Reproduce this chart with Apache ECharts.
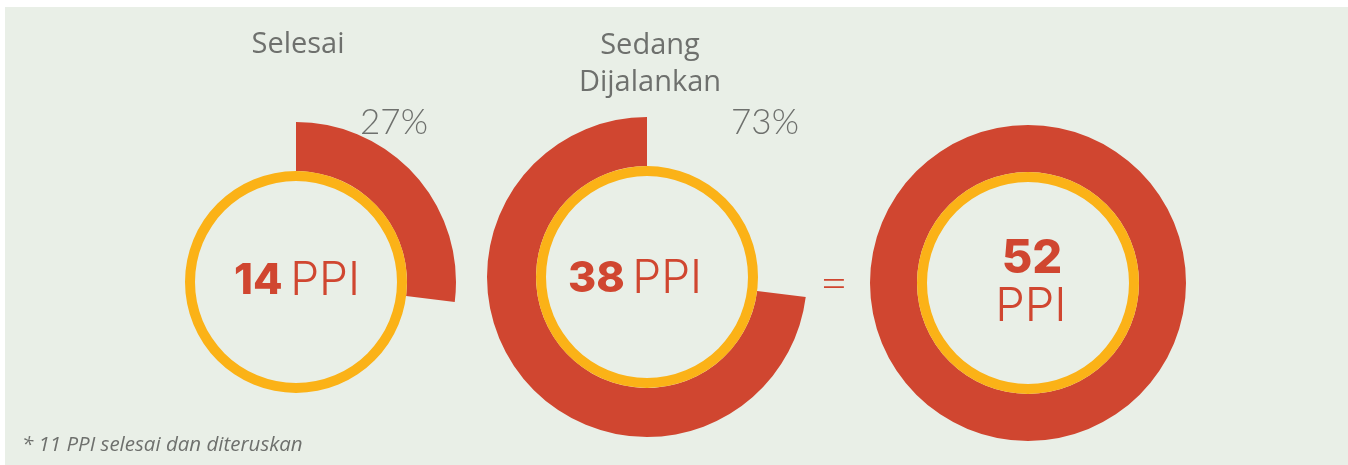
<!DOCTYPE html>
<html>
<head>
<meta charset="utf-8">
<script src="https://cdn.jsdelivr.net/npm/echarts@6/dist/echarts.min.js"></script>
<style>
  html, body { margin: 0; padding: 0; background: #fff; }
  #chart { width: 1348px; height: 465px; }
</style>
</head>
<body>
<div id="chart"></div>
<script>
// data
const categories = ['Selesai', 'Sedang\nDijalankan']
const counts = [14, 38]
const percents = [27, 73]
const totalCount = 52
const footnote = '* 11 PPI selesai dan diteruskan'

const RED = '#D04630'
const YELLOW = '#FBB217'
const BG = '#E9EFE7'
const GREY = '#6E706D'

const chart = echarts.init(document.getElementById('chart'))

// posisi donat
const centers = [[296, 282], [647, 277], [1028, 283]]
const outerR = [160, 160, 158]
const ringIn = 101, ringOut = 111

// cincin kuning di tengah
const ring = (c) => ({
  type: 'pie', center: c, radius: [ringIn, ringOut], silent: true,
  label: { show: false }, labelLine: { show: false },
  itemStyle: { color: YELLOW }, data: [1]
})

const series = [
  {
    type: 'pie', center: centers[0], radius: [ringOut, outerR[0]],
    startAngle: 90, clockwise: true, silent: true,
    label: { show: false },
    data: [
      { value: percents[0], itemStyle: { color: RED } },
      { value: 100 - percents[0], itemStyle: { color: 'transparent' } }
    ]
  },
  {
    type: 'pie', center: centers[1], radius: [ringOut, outerR[1]],
    startAngle: 90, clockwise: false, silent: true,
    label: { show: false },
    data: [
      { value: percents[1], itemStyle: { color: RED } },
      { value: 100 - percents[1], itemStyle: { color: 'transparent' } }
    ]
  },
  {
    type: 'pie', center: centers[2], radius: [ringOut, outerR[2]],
    silent: true, label: { show: false },
    data: [{ value: totalCount, itemStyle: { color: RED } }]
  },
  ring(centers[0]), ring(centers[1]), ring(centers[2])
]

const rich = {
  b: { fontFamily: 'Inter', fontWeight: 800, fontSize: 43, fill: RED },
  l: { fontFamily: 'Inter', fontWeight: 300, fontSize: 46, fill: RED }
}

const txt = (x, y, text, style) => ({
  type: 'text', x, y, silent: true,
  style: Object.assign({ text, align: 'center', verticalAlign: 'middle', fill: GREY,
    fontFamily: 'Open Sans', fontSize: 29 }, style)
})

chart.setOption({
  backgroundColor: '#fff',
  animation: false,
  graphic: [
    { type: 'rect', z: -10, shape: { x: 5, y: 7, width: 1343, height: 458 }, style: { fill: BG } },
    txt(298, 45, categories[0], {}),
    txt(650, 64, categories[1], { lineHeight: 37 }),
    txt(394, 123, percents[0] + '%', { fontFamily: 'Lato', fontWeight: 300, fontSize: 35 }),
    txt(765, 123, percents[1] + '%', { fontFamily: 'Lato', fontWeight: 300, fontSize: 35 }),
    txt(297, 281, '{b|' + counts[0] + '} {l|PPI}', { rich }),
    txt(635, 279, '{b|' + counts[1] + '} {l|PPI}', { rich }),
    txt(834, 284, '=', { fontFamily: 'Lato', fontWeight: 300, fontSize: 48, fill: RED }),
    txt(1032, 259, String(totalCount), { fontFamily: 'Inter', fontWeight: 800, fontSize: 47, fill: RED }),
    txt(1031, 307, 'PPI', { fontFamily: 'Inter', fontWeight: 300, fontSize: 47, fill: RED }),
    { type: 'text', x: 22, y: 445, silent: true,
      style: { text: footnote, verticalAlign: 'middle', fill: GREY,
        fontFamily: 'Open Sans', fontStyle: 'italic', fontSize: 20.5 } }
  ],
  series
})
</script>
</body>
</html>
